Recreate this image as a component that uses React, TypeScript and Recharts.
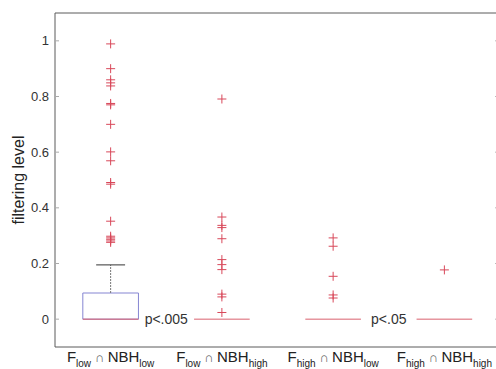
import React from 'react';
import { ScatterChart, Scatter, XAxis, YAxis, ReferenceArea, ReferenceLine } from 'recharts';

const categoryPositions = [1, 2, 3, 4];
const fLevels = ['low', 'low', 'high', 'high'];
const nbhLevels = ['low', 'high', 'low', 'high'];

const q1 = [0, 0, 0, 0];
const medians = [0, 0, 0, 0];
const q3 = [0.094, 0, 0, 0];
const upperWhiskers = [0.195, 0, 0, 0];

const outliersG1 = [0.989, 0.9, 0.86, 0.849, 0.838, 0.775, 0.77, 0.7, 0.601, 0.569, 0.491, 0.485, 0.352, 0.298, 0.292, 0.287, 0.281, 0.276];
const outliersG2 = [0.791, 0.367, 0.337, 0.329, 0.289, 0.214, 0.196, 0.178, 0.09, 0.08, 0.024];
const outliersG3 = [0.292, 0.262, 0.154, 0.087, 0.076];
const outliersG4 = [0.177];

const yTicks = [0, 0.2, 0.4, 0.6, 0.8, 1];
const yTickLabels = ['0', '0.2', '0.4', '0.6', '0.8', '1'];

const annotations = [
  { x: 1.5, y: 0, text: 'p<.005' },
  { x: 3.5, y: 0, text: 'p<.05' },
];

const outlierData = [outliersG1, outliersG2, outliersG3, outliersG4].flatMap((vals, i) =>
  vals.map((v) => ({ x: categoryPositions[i], y: v }))
);

const FONT = '"Liberation Sans", Arial, Helvetica, sans-serif';
const BOX_HALF = 0.25;
const CAP_HALF = 0.13;
const BOX_COLOR = '#8585d2';
const MEDIAN_COLOR = '#d9606e';
const OUTLIER_COLOR = '#d8485a';
const AXIS_COLOR = '#5a5a5a';

const PlusShape = (props: any) => {
  const { cx, cy } = props;
  if (cx == null || cy == null) return null;
  return (
    <path
      d={`M${cx - 4.5},${cy}H${cx + 4.5}M${cx},${cy - 4.5}V${cy + 4.5}`}
      stroke={OUTLIER_COLOR}
      strokeWidth={1}
      fill="none"
    />
  );
};

const AnnotationShape = (props: any) => {
  const { cx, cy, payload } = props;
  return (
    <text
      x={cx}
      y={cy}
      textAnchor="middle"
      dominantBaseline="central"
      fontSize={14}
      fontFamily={FONT}
      fill="#333"
    >
      {payload.text}
    </text>
  );
};

const XTick = (props: any) => {
  const { x, y, payload } = props;
  const idx = categoryPositions.indexOf(payload.value);
  if (idx < 0) return null;
  return (
    <text x={x} y={y + 14.5} textAnchor="middle" fontFamily={FONT} fontSize={15} fill="#222">
      <tspan>F</tspan>
      <tspan fontSize={10} dy={5}>{fLevels[idx]}</tspan>
      <tspan dy={-5} fontSize={13} fill="#666">{' \u2229 '}</tspan>
      <tspan>NBH</tspan>
      <tspan fontSize={10} dy={5}>{nbhLevels[idx]}</tspan>
    </text>
  );
};

const YLabel = (props: any) => {
  const vb = props.viewBox || {};
  const cx = (vb.x || 0) + 18;
  const cy = (vb.y || 0) + (vb.height || 0) / 2;
  return (
    <text
      x={cx}
      y={cy}
      transform={`rotate(-90, ${cx}, ${cy})`}
      textAnchor="middle"
      dominantBaseline="central"
      fontFamily={FONT}
      fontSize={16}
      fill="#222"
    >
      filtering level
    </text>
  );
};

export default function App() {
  return (
    <div
      style={{
        position: 'absolute',
        left: 0,
        top: 0,
        width: 496,
        height: 369,
        overflow: 'hidden',
        background: '#fff',
      }}
    >
      <ScatterChart width={500} height={369} margin={{ top: 13, right: 0, bottom: 0, left: 0 }}>
        <XAxis
          xAxisId="b"
          dataKey="x"
          type="number"
          domain={[0.5, 4.5]}
          ticks={categoryPositions}
          allowDataOverflow
          height={22}
          tickLine={false}
          tickSize={0}
          tickMargin={0}
          axisLine={{ stroke: AXIS_COLOR }}
          tick={<XTick />}
          interval={0}
        />
        <XAxis
          xAxisId="t"
          orientation="top"
          mirror
          type="number"
          domain={[0.5, 4.5]}
          allowDataOverflow
          tick={false}
          tickLine={false}
          axisLine={{ stroke: AXIS_COLOR }}
        />
        <YAxis
          yAxisId="l"
          dataKey="y"
          type="number"
          domain={[-0.1, 1.1]}
          allowDataOverflow
          ticks={yTicks}
          width={55}
          tickLine={false}
          tickSize={0}
          tickMargin={6}
          axisLine={{ stroke: AXIS_COLOR }}
          tickFormatter={(v: number) => yTickLabels[yTicks.indexOf(v)] ?? String(v)}
          tick={{ fontSize: 13, fontFamily: FONT, fill: '#333' }}
          label={<YLabel />}
        />
        <YAxis
          yAxisId="lm"
          orientation="left"
          mirror
          type="number"
          domain={[-0.1, 1.1]}
          allowDataOverflow
          ticks={yTicks}
          width={10}
          tickSize={4}
          tickLine={{ stroke: '#aaa' }}
          axisLine={false}
          tickFormatter={() => ''}
        />
        <YAxis
          yAxisId="r"
          orientation="right"
          mirror
          type="number"
          domain={[-0.1, 1.1]}
          allowDataOverflow
          ticks={yTicks}
          width={10}
          tickSize={5}
          tickLine={{ stroke: '#bbb' }}
          axisLine={{ stroke: AXIS_COLOR }}
          tickFormatter={() => ''}
        />

        {categoryPositions.map((c, i) => (
          <ReferenceLine
            key={`med-${i}`}
            xAxisId="b"
            yAxisId="l"
            segment={[
              { x: c - BOX_HALF, y: medians[i] },
              { x: c + BOX_HALF, y: medians[i] },
            ]}
            stroke={MEDIAN_COLOR}
            strokeWidth={1}
            ifOverflow="visible"
          />
        ))}

        {categoryPositions.map((c, i) =>
          upperWhiskers[i] > q3[i] ? (
            <ReferenceLine
              key={`wh-${i}`}
              xAxisId="b"
              yAxisId="l"
              segment={[
                { x: c, y: q3[i] },
                { x: c, y: upperWhiskers[i] },
              ]}
              stroke="#777"
              strokeDasharray="2 1"
              strokeWidth={1}
              ifOverflow="visible"
            />
          ) : null
        )}

        {categoryPositions.map((c, i) =>
          upperWhiskers[i] > q3[i] ? (
            <ReferenceLine
              key={`cap-${i}`}
              xAxisId="b"
              yAxisId="l"
              segment={[
                { x: c - CAP_HALF, y: upperWhiskers[i] },
                { x: c + CAP_HALF, y: upperWhiskers[i] },
              ]}
              stroke="#333"
              strokeWidth={1}
              ifOverflow="visible"
            />
          ) : null
        )}

        {categoryPositions.map((c, i) =>
          q3[i] > q1[i] ? (
            <ReferenceArea
              key={`box-${i}`}
              xAxisId="b"
              yAxisId="l"
              x1={c - BOX_HALF}
              x2={c + BOX_HALF}
              y1={q1[i]}
              y2={q3[i]}
              fill="none"
              fillOpacity={0}
              stroke={BOX_COLOR}
              strokeWidth={1}
              ifOverflow="visible"
            />
          ) : null
        )}

        <Scatter
          xAxisId="b"
          yAxisId="l"
          data={outlierData}
          shape={<PlusShape />}
          isAnimationActive={false}
        />
        <Scatter
          xAxisId="b"
          yAxisId="l"
          data={annotations}
          shape={<AnnotationShape />}
          isAnimationActive={false}
        />
      </ScatterChart>
    </div>
  );
}
